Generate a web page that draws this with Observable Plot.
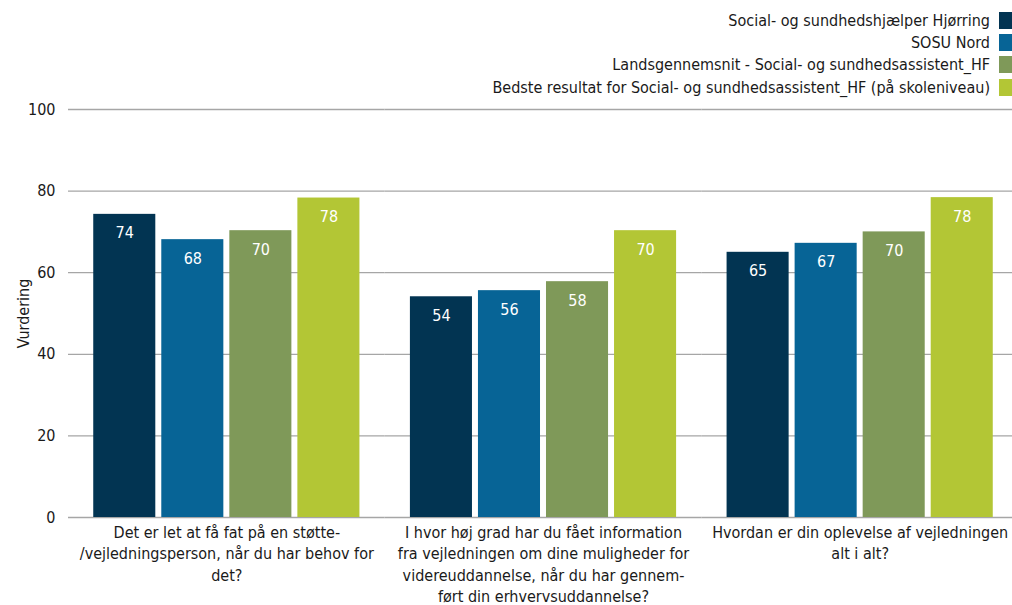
<!DOCTYPE html>
<html><head><meta charset="utf-8">
<script src="https://cdn.jsdelivr.net/npm/d3@7"></script>
<script src="https://cdn.jsdelivr.net/npm/@observablehq/plot@0.6"></script>
<style>
body{margin:0;background:#fff;font-family:Tahoma,"DejaVu Sans Condensed","Liberation Sans",sans-serif;}
#legend{height:100px;position:relative;width:1012px;}
.row{position:absolute;right:0;display:flex;align-items:center;font-size:16px;color:#1a1a1a;height:20px;}
.sw{width:13px;height:17px;margin-left:9px;}
</style></head><body>
<div id="legend"></div><div id="chart"></div>
<script>
const categories = [
  "Det er let at få fat på en støtte-\n/vejledningsperson, når du har behov for\ndet?",
  "I hvor høj grad har du fået information\nfra vejledningen om dine muligheder for\nvidereuddannelse, når du har gennem-\nført din erhvervsuddannelse?",
  "Hvordan er din oplevelse af vejledningen\nalt i alt?"
];
const series = [
  "Social- og sundhedshjælper Hjørring",
  "SOSU Nord",
  "Landsgennemsnit - Social- og sundhedsassistent_HF",
  "Bedste resultat for Social- og sundhedsassistent_HF (på skoleniveau)"
];
const colors = ["#023452", "#076496", "#7f9959", "#b3c635"];
const valuesQ1 = [74.3, 68.1, 70.3, 78.3];
const valuesQ2 = [54.1, 55.6, 57.8, 70.3];
const valuesQ3 = [65.0, 67.2, 70.0, 78.4];
const yTicks = [0, 20, 40, 60, 80, 100];
const yLabel = "Vurdering";

const allValues = [valuesQ1, valuesQ2, valuesQ3];
const data = categories.flatMap((c, i) => series.map((s, j) => ({category: c, series: s, value: allValues[i][j]})));

// legend
const legend = document.getElementById("legend");
series.forEach((s, i) => {
  const row = document.createElement("div");
  row.className = "row";
  row.style.top = (10 + i * 22.4) + "px";
  const t = document.createElement("span");
  t.textContent = s;
  const sw = document.createElement("div");
  sw.className = "sw";
  sw.style.background = colors[i];
  row.appendChild(t); row.appendChild(sw);
  legend.appendChild(row);
});

const font = 'Tahoma,"DejaVu Sans Condensed","Liberation Sans",sans-serif';
const chart = Plot.plot({
  width: 1012, height: 505,
  marginTop: 9, marginBottom: 88, marginLeft: 68, marginRight: -6,
  style: {fontFamily: font, fontSize: "16px", color: "#1a1a1a", background: "#fff"},
  fx: {domain: categories, padding: 0, round: false, label: null, axis: null},
  x: {domain: series, paddingInner: 0.088, paddingOuter: 0.371, round: false, axis: null},
  y: {domain: [0, 100], label: null, axis: null},
  color: {domain: series, range: colors},
  marks: [
    Plot.gridY(yTicks, {stroke: "#a6a6a6", strokeOpacity: 1, strokeWidth: 1.3}),
    Plot.axisY(yTicks, {tickSize: 0, tickPadding: 13, fontSize: 16, label: yLabel, labelAnchor: "center", labelOffset: 51, labelArrow: "none"}),
    Plot.barY(data, {fx: "category", x: "series", y: "value", fill: "series"}),
    Plot.text(data, {fx: "category", x: "series", y: "value", text: d => String(Math.round(d.value)), fill: "white", dy: 19, fontSize: 16}),
    Plot.axisFx({anchor: "bottom", tickSize: 0, tickPadding: 5, fontSize: 16, lineHeight: 1.34, label: null})
  ]
});
document.getElementById("chart").appendChild(chart);
</script>
</body></html>
